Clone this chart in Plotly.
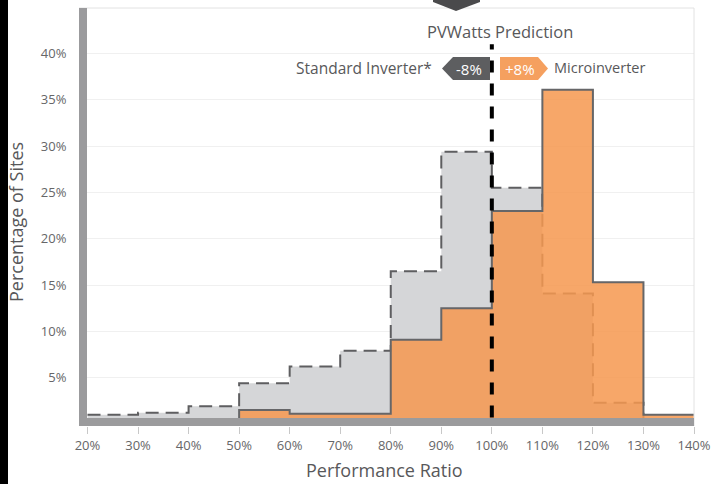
import plotly.graph_objects as go

# ---- data ----
bin_edges = [20, 30, 40, 50, 60, 70, 80, 90, 100, 110, 120, 130, 140]
standard_inverter = [1.0, 1.2, 1.9, 4.4, 6.2, 7.9, 16.5, 29.4, 25.5, 14.1, 2.3, 0.0]
microinverter = [0.0, 0.0, 0.0, 1.5, 1.1, 1.1, 9.1, 12.5, 23.0, 36.1, 15.3, 1.0]
x_ticks = [20, 30, 40, 50, 60, 70, 80, 90, 100, 110, 120, 130, 140]
x_tick_labels = [f"{v}%" for v in x_ticks]
y_ticks = [5, 10, 15, 20, 25, 30, 35, 40]
y_tick_labels = [f"{v}%" for v in y_ticks]
prediction = 100

W, H = 713, 484
L, R, T, B = 79, 694, 8, 426
def fx(px):
    return (px - L) / (R - L)
def fy(py):
    return (B - py) / (B - T)

FONT = "Open Sans"
TXT = "#58585a"

std_y = standard_inverter + [standard_inverter[-1]]
mic_y = microinverter + [microinverter[-1]]

fig = go.Figure()
fig.add_trace(go.Scatter(x=bin_edges, y=std_y, mode="lines", line_shape="hv",
                         line=dict(width=0, color="rgba(0,0,0,0)"),
                         fill="tozeroy", fillcolor="#d5d6d8", hoverinfo="skip", showlegend=False))
fig.add_trace(go.Scatter(x=bin_edges, y=std_y, mode="lines", line_shape="hv",
                         line=dict(width=2, color="#5e5e60", dash="13px,7px"),
                         hoverinfo="skip", showlegend=False))
fig.add_trace(go.Scatter(x=bin_edges, y=mic_y, mode="lines", line_shape="hv",
                         line=dict(width=0, color="rgba(0,0,0,0)"),
                         fill="tozeroy", fillcolor="rgba(246,152,80,0.86)", hoverinfo="skip", showlegend=False))
fig.add_trace(go.Scatter(x=bin_edges, y=mic_y, mode="lines", line_shape="hv",
                         line=dict(width=2, color="#666668"),
                         hoverinfo="skip", showlegend=False))

shapes = []
shapes.append(dict(type="line", xref="paper", yref="paper", x0=0, x1=1, y0=1, y1=1,
                   line=dict(color="#e2e2e2", width=1)))
shapes.append(dict(type="line", xref="paper", yref="paper", x0=1, x1=1, y0=0, y1=1,
                   line=dict(color="#e2e2e2", width=1)))
shapes.append(dict(type="rect", xref="paper", yref="paper", x0=0, x1=fx(87), y0=0, y1=1,
                   fillcolor="#9b9b9d", line=dict(width=0), layer="above"))
shapes.append(dict(type="rect", xref="paper", yref="paper", x0=0, x1=1, y0=0, y1=fy(418),
                   fillcolor="#9b9b9d", line=dict(width=0), layer="above"))
shapes.append(dict(type="line", xref="x", yref="y", x0=prediction, x1=prediction, y0=0.7, y1=41,
                   line=dict(color="#000000", width=4, dash="12px,11px"), layer="above"))
def path(points):
    return "M " + " L ".join(f"{fx(a)},{fy(b)}" for a, b in points) + " Z"
shapes.append(dict(type="path", xref="paper", yref="paper",
                   path=path([(442, 68.5), (453, 57), (490, 57), (490, 80), (453, 80)]),
                   fillcolor="#5d5e60", line=dict(width=0)))
shapes.append(dict(type="path", xref="paper", yref="paper",
                   path=path([(500, 57), (538, 57), (548, 68.5), (538, 80), (500, 80)]),
                   fillcolor="#f5a05f", line=dict(width=0)))
shapes.append(dict(type="path", xref="paper", yref="paper",
                   path=path([(433, 0), (480, 0), (480, 2), (456, 11), (433, 2)]),
                   fillcolor="#4a4a4c", line=dict(width=0)))
shapes.append(dict(type="rect", xref="paper", yref="paper", x0=fx(0), x1=fx(8), y0=fy(484), y1=fy(0),
                   fillcolor="#000000", line=dict(width=0)))

annotations = [
    dict(text="PVWatts Prediction", x=fx(500), y=fy(31), xref="paper", yref="paper",
         showarrow=False, xanchor="center", yanchor="middle",
         font=dict(family=FONT, size=16.5, color=TXT)),
    dict(text="Standard Inverter*", x=fx(434), y=fy(68), xref="paper", yref="paper",
         showarrow=False, xanchor="right", yanchor="middle",
         font=dict(family=FONT, size=15.5, color=TXT)),
    dict(text="Microinverter", x=fx(552), y=fy(68), xref="paper", yref="paper",
         showarrow=False, xanchor="left", yanchor="middle",
         font=dict(family=FONT, size=14.5, color=TXT)),
    dict(text="-8%", x=fx(469), y=fy(68.5), xref="paper", yref="paper",
         showarrow=False, xanchor="center", yanchor="middle",
         font=dict(family=FONT, size=15, color="#ffffff")),
    dict(text="+8%", x=fx(520), y=fy(68.5), xref="paper", yref="paper",
         showarrow=False, xanchor="center", yanchor="middle",
         font=dict(family=FONT, size=15, color="#ffffff")),
    dict(text="Percentage of Sites", x=fx(16), y=fy(222), xref="paper", yref="paper",
         showarrow=False, xanchor="center", yanchor="middle", textangle=-90,
         font=dict(family=FONT, size=18, color=TXT)),
    dict(text="Performance Ratio", x=fx(384), y=fy(470), xref="paper", yref="paper",
         showarrow=False, xanchor="center", yanchor="middle",
         font=dict(family=FONT, size=18, color=TXT)),
]

slope = (R - 87.5) / 120.0
x_left = 20 - (87.5 - L) / slope
fig.update_layout(
    width=W, height=H, autosize=False,
    margin=dict(l=L, r=W - R, t=T, b=H - B, pad=0, autoexpand=False),
    paper_bgcolor="#ffffff", plot_bgcolor="#ffffff",
    shapes=shapes, annotations=annotations, showlegend=False,
    xaxis=dict(range=[x_left, 140], tickvals=x_ticks, ticktext=x_tick_labels, automargin=False,
               showgrid=False, zeroline=False, showline=False,
               ticks="outside", ticklen=7, tickcolor="#c8c8c8", tickwidth=1,
               tickfont=dict(family=FONT, size=13, color="#666668")),
    yaxis=dict(range=[-0.22, 44.92], tickvals=y_ticks, ticktext=y_tick_labels, automargin=False,
               showgrid=True, gridcolor="#f0f0f0", gridwidth=1, zeroline=False, showline=False,
               ticks="outside", ticklen=9, tickcolor="rgba(0,0,0,0)",
               tickfont=dict(family=FONT, size=13, color="#666668")),
)

fig.write_html("out.html", config={"displayModeBar": False, "responsive": False},
               post_script="document.body.style.margin='0';document.body.style.padding='0';")
